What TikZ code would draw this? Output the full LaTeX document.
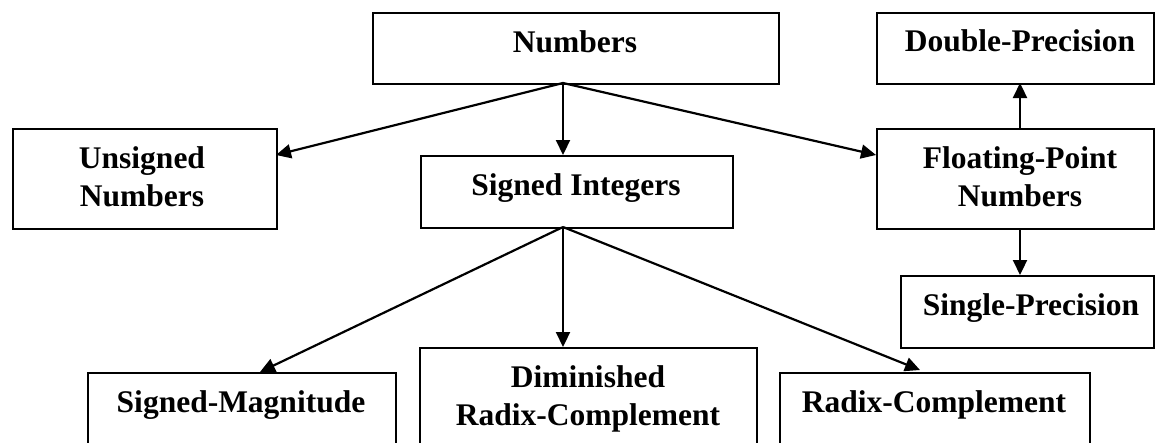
\documentclass[tikz,border=0pt]{standalone}
\usepackage{fontspec}
\setmainfont{Liberation Serif}
\usetikzlibrary{arrows.meta}
\newcommand{\twolines}[2]{\begin{tabular}[t]{@{}c@{}}#1\\#2\end{tabular}}
\begin{document}
\begin{tikzpicture}[x=1pt,y=-1pt,
  boxstyle/.style={draw, line width=1.8pt, rectangle, inner sep=0pt, anchor=north west},
  lbl/.style={inner sep=0pt, anchor=base, font=\fontsize{31.5}{38}\selectfont\bfseries},
  conn/.style={line width=2.2pt, -{Triangle[length=15pt,width=14pt]}}]
\useasboundingbox (0,0) rectangle (1155,442);
\clip (0,0) rectangle (1155,442);
% boxes
\node[boxstyle, minimum width=406pt, minimum height=71pt] (num) at (372,12) {};
\node[boxstyle, minimum width=277pt, minimum height=71pt] (dp) at (876,12) {};
\node[boxstyle, minimum width=264pt, minimum height=100pt] (uns) at (12,128) {};
\node[boxstyle, minimum width=312pt, minimum height=72pt] (si) at (420,155) {};
\node[boxstyle, minimum width=277pt, minimum height=100pt] (fp) at (876,128) {};
\node[boxstyle, minimum width=253pt, minimum height=72pt] (sp) at (900,275) {};
\node[boxstyle, minimum width=308pt, minimum height=100pt] (sm) at (87,372) {};
\node[boxstyle, minimum width=337pt, minimum height=120pt] (dim) at (419,347) {};
\node[boxstyle, minimum width=310pt, minimum height=100pt] (rad) at (779,372) {};
% labels
\node[lbl] (numT) at (575,52) {Numbers};
\node[lbl] (dpT) at (1020,51) {Double-Precision};
\node[lbl] (unsT) at (142,168) {\twolines{Unsigned}{Numbers}};
\node[lbl] (siT) at (576,195) {Signed Integers};
\node[lbl] (fpT) at (1020,168) {\twolines{Floating-Point}{Numbers}};
\node[lbl] (spT) at (1031,315) {Single-Precision};
\node[lbl] (smT) at (241,412) {Signed-Magnitude};
\node[lbl] (dimT) at (588,387) {\twolines{Diminished}{Radix-Complement}};
\node[lbl] (radT) at (934,412) {Radix-Complement};
% connector end points on box edges
\coordinate (numOut) at (563,83);
\coordinate (unsIn) at (276,155);
\coordinate (siIn) at (563,155);
\coordinate (fpIn) at (876,155);
\coordinate (siOut) at (563,227);
\coordinate (smIn) at (260,372);
\coordinate (dimIn) at (563,347);
\coordinate (radIn) at (920,370);
\coordinate (fpTop) at (1020,128);
\coordinate (dpIn) at (1020,83);
\coordinate (fpBot) at (1020,228);
\coordinate (spIn) at (1020,275);
% connectors
\draw[conn] (numOut) -- (unsIn);
\draw[conn] (numOut) -- (siIn);
\draw[conn] (numOut) -- (fpIn);
\draw[conn] (siOut) -- (smIn);
\draw[conn] (siOut) -- (dimIn);
\draw[conn] (siOut) -- (radIn);
\draw[conn] (fpTop) -- (dpIn);
\draw[conn] (fpBot) -- (spIn);
\end{tikzpicture}
\end{document}
